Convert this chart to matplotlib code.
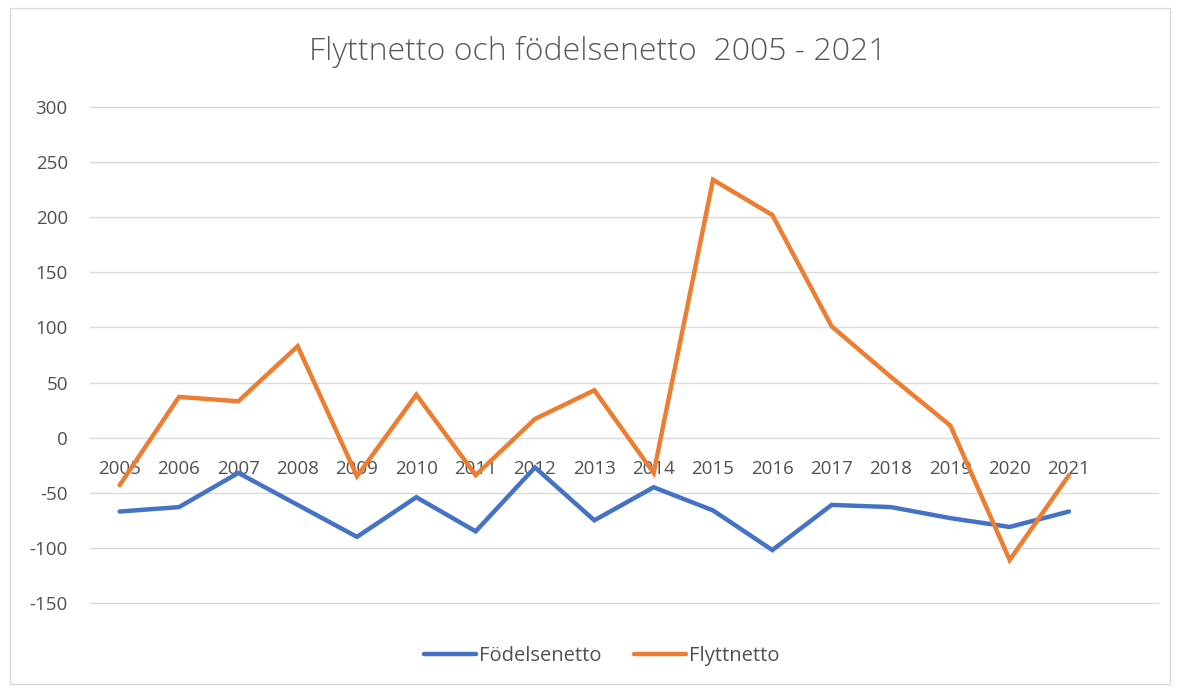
import matplotlib.pyplot as plt
from matplotlib.patches import Rectangle

# data
years = [str(y) for y in range(2005, 2022)]
fodelsenetto = [-67, -63, -32, -61, -90, -54, -85, -27, -75, -45, -66, -102, -61, -63, -73, -81, -67]
flyttnetto = [-43, 37, 33, 83, -35, 39, -34, 17, 43, -32, 234, 202, 101, 55, 11, -111, -34]
yticks = [-150, -100, -50, 0, 50, 100, 150, 200, 250, 300]

plt.rcParams['font.family'] = ['Open Sans', 'DejaVu Sans']

fig = plt.figure(figsize=(11.81, 6.91), dpi=100)
fig.patches.append(Rectangle((10 / 1181, 1 - 684 / 691), 1160 / 1181, 676 / 691,
                             transform=fig.transFigure, fill=False,
                             edgecolor='#D9D9D9', linewidth=1))

ax = fig.add_axes([90 / 1181, 1 - 603 / 691, 1068 / 1181, 496 / 691])
x = list(range(len(years)))
ax.plot(x, fodelsenetto, color='#4472C4', linewidth=3.2, label='Födelsenetto',
        solid_capstyle='round', solid_joinstyle='miter', zorder=3)
ax.plot(x, flyttnetto, color='#ED7D31', linewidth=3.2, label='Flyttnetto',
        solid_capstyle='round', solid_joinstyle='miter', zorder=3)

ax.set_xlim(-0.5, len(years) + 0.5)
ax.set_ylim(-150, 300)
ax.set_yticks(yticks)
ax.set_yticklabels([str(v) for v in yticks], color='#505050', fontsize=13.5)
ax.grid(axis='y', color='#D9D9D9', linewidth=1)
for gl in ax.get_ygridlines():
    gl.set_clip_on(False)
ax.set_axisbelow(True)

for s in ['top', 'right', 'left']:
    ax.spines[s].set_visible(False)
ax.spines['bottom'].set_position(('data', 0))
ax.spines['bottom'].set_visible(False)
ax.set_xticks(x)
ax.set_xticklabels(years, color='#505050', fontsize=13.5)
ax.tick_params(axis='both', length=0)
ax.tick_params(axis='x', pad=16)
ax.tick_params(axis='y', pad=16)

fig.text(598 / 1181, 1 - 52 / 691, 'Flyttnetto och födelsenetto  2005 - 2021',
         ha='center', va='center', fontsize=23, color='#595959', fontweight='light')

ax.legend(loc='center', bbox_to_anchor=((602 - 90) / 1068, (603 - 656) / 496), ncol=2,
          frameon=False, fontsize=14.5, labelcolor='#505050',
          handlelength=2.6, handletextpad=0.15, columnspacing=1.6)

fig.savefig('out.png', dpi=100)
